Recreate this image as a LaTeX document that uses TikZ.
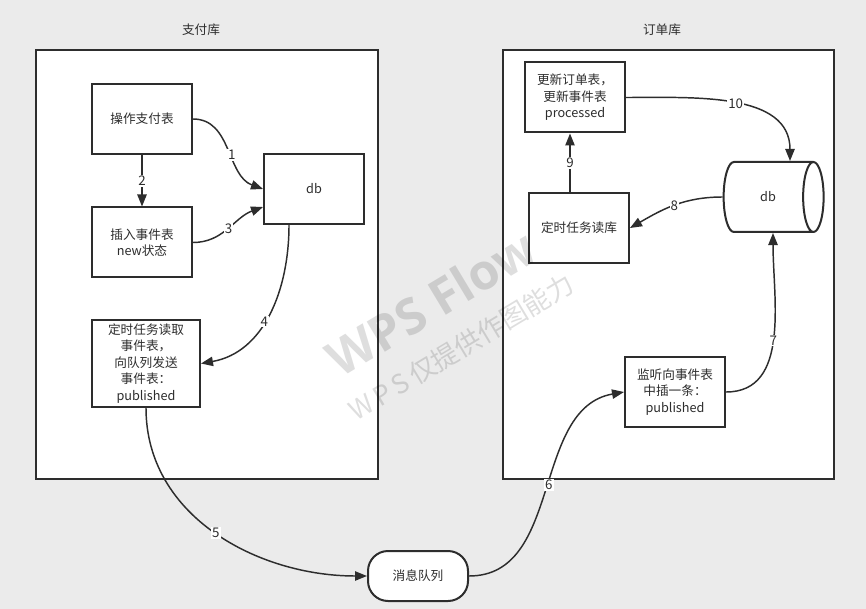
\documentclass[tikz,border=0pt]{standalone}
\usepackage{fontspec}
\setmainfont{Noto Sans CJK SC}
\newfontfamily\wmfont{Open Sans}
\usetikzlibrary{shapes,arrows.meta,positioning}
\definecolor{bggray}{RGB}{235,235,235}
\definecolor{ink}{RGB}{45,45,45}

\begin{document}
\begin{tikzpicture}[x=0.75pt, y=-0.75pt, thick, font=\fontsize{9.5pt}{12.4pt}\selectfont, text=ink]
    % Styles
    \tikzstyle{dbbox} = [rectangle, draw=ink, line width=1.5pt, fill=white, minimum width=75pt, minimum height=52.5pt, inner sep=0pt, align=center]
    \tikzstyle{area} = [rectangle, draw=ink, line width=1.5pt, fill=white, inner sep=0pt]
    \tikzstyle{arrow} = [-{Triangle[length=9pt,width=7pt]}, draw=ink, line width=1.1pt]
    \tikzstyle{num} = [fill=white, inner sep=0.8pt, font=\fontsize{10pt}{12pt}\selectfont]

    % Background
    \fill [bggray] (0,0) rectangle (866,609);
    \useasboundingbox (0,0) rectangle (866,609);

    % Two databases
    \node [area, minimum width=256.5pt, minimum height=321.75pt] (paybox) at (207,264.5) {};
    \node [area, minimum width=248.25pt, minimum height=321.75pt] (ordbox) at (668.5,264.5) {};
    \node (paytitle) at (201,30) {支付库};
    \node (ordtitle) at (662,30) {订单库};

    % Payment side
    \node [dbbox] (pay) at (142,119) {操作支付表};
    \node [dbbox] (ins) at (142,242.5) {插入事件表\\new状态};
    \node [dbbox] (paydb) at (314,189) {db};
    \node [dbbox, minimum width=81pt, minimum height=65.25pt] (send) at (146,363.5) {定时任务读取\\事件表，\\向队列发送\\事件表：\\published};

    % Queue
    \node [dbbox, rounded corners=15pt, minimum height=37.5pt] (mq) at (418,576) {消息队列};

    % Order side
    \node [dbbox] (upd) at (575,97.5) {更新订单表，\\更新事件表\\processed};
    \node [dbbox] (read) at (579,228) {定时任务读库};
    \node [cylinder, draw=ink, line width=1.5pt, fill=white, minimum width=52.5pt, minimum height=75pt, shape aspect=2, inner sep=0pt] (orddb) at (768,197) {db};
    \node [dbbox] (listen) at (675,392) {监听向事件表\\中插一条：\\published};

    % Connections
    \draw [arrow] (pay.east) to [out=0, in=160] node[num, pos=0.56] {1} (paydb.west);
    \draw [arrow] (pay.south) -- node[num] {2} (ins.north);
    \draw [arrow] (ins.east) to [out=0, in=200] node[num, pos=0.5] {3} ([yshift=-13.5pt]paydb.west);
    \draw [arrow] ([xshift=-18.75pt]paydb.south) to [out=-90, in=10] node[num, pos=0.55] {4} (send.east);
    \draw [arrow] (send.south) to [out=-90, in=180] node[num, pos=0.5] {5} (mq.west);
    \draw [arrow] (mq.east) to [out=0, in=190] node[num, pos=0.52] {6} (listen.west);
    \draw [arrow] (listen.east) to [out=0, in=-90] node[num, pos=0.48] {7} ([xshift=3.75pt]orddb.south);
    \draw [arrow] (orddb.west) to [out=180, in=30] node[num, pos=0.5] {8} (read.east);
    \draw [arrow] ([xshift=-6.75pt]read.north) -- node[num] {9} ([xshift=-3.75pt]upd.south);
    \draw [arrow] (upd.east) to [out=0, in=90] node[num, pos=0.51] {10} ([xshift=16.5pt]orddb.north);

    % Watermark
    \node [rotate=31, text=black, opacity=0.13, font=\wmfont\bfseries\fontsize{37pt}{37pt}\selectfont] (wm) at (431,303) {WPS Flow};
    \node [rotate=31, text=black, opacity=0.13, font=\fontsize{20pt}{20pt}\selectfont] (wmsub) at (461,347) {W\,P\,S\,仅提供作图能力};

\end{tikzpicture}
\end{document}
